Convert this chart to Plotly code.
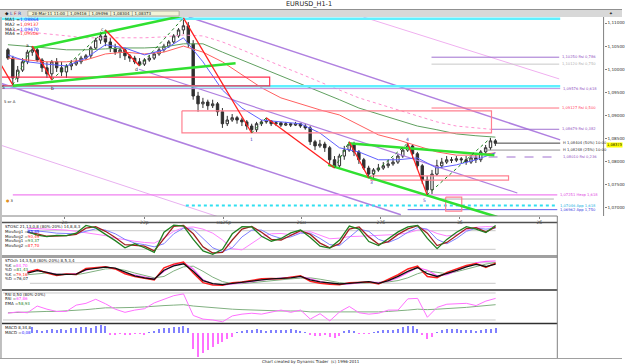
import plotly.graph_objects as go

W, H = 625, 364
def px(x): return x / W
def py(y): return 1 - y / H

# ---------------- candle data (price in pips, /10000) ----------------
open0 = 11042
close_pips = [11024,10981,10998,11016,11037,11042,11020,11003,10990,11016,
              11003,10994,11007,11011,11016,11024,11029,11046,11063,11072,
              11059,11046,11037,11042,11029,11024,11016,11011,11020,11024,
              11033,11042,11050,11059,11072,11085,11094,11055,10942,10925,
              10929,10921,10925,10908,10882,10890,10895,10890,10886,10877,
              10869,10882,10886,10888,10882,10884,10879,10882,10879,10882,
              10877,10873,10843,10834,10838,10830,10804,10791,10812,10825,
              10838,10821,10804,10786,10773,10782,10786,10791,10795,10799,
              10812,10825,10834,10817,10791,10760,10739,10773,10791,10799,
              10804,10803,10806,10804,10799,10808,10804,10821,10830,10845,10840]
high_pips = [11046,11029,11007,11024,11042,11050,11046,11024,11016,11020,
             11024,11016,11011,11020,11024,11029,11033,11050,11068,11081,
             11085,11068,11055,11046,11046,11033,11029,11024,11024,11031,
             11037,11046,11055,11063,11076,11089,11111,11102,11063,10951,
             10938,10934,10934,10929,10916,10899,10903,10899,10895,10890,
             10882,10886,10890,10895,10890,10888,10886,10886,10884,10886,
             10884,10882,10877,10847,10847,10843,10834,10812,10817,10834,
             10843,10843,10825,10808,10791,10786,10795,10799,10804,10808,
             10817,10830,10840,10838,10821,10795,10769,10782,10804,10808,
             10812,10810,10812,10810,10812,10814,10817,10825,10836,10851,10849]
low_pips = [11020,10966,10972,10994,11011,11029,11016,10994,10981,10977,
            10994,10985,10981,10998,11007,11011,11020,11024,11042,11055,
            11050,11037,11031,11024,11020,11016,11011,11007,11007,11016,
            11020,11029,11037,11046,11055,11068,11076,11046,10934,10908,
            10916,10912,10916,10899,10873,10877,10886,10882,10877,10869,
            10862,10864,10877,10882,10877,10877,10875,10877,10875,10877,
            10873,10869,10836,10825,10830,10821,10795,10786,10786,10804,
            10821,10812,10795,10782,10765,10765,10778,10782,10786,10791,
            10795,10808,10821,10808,10782,10752,10728,10730,10769,10786,
            10795,10797,10799,10797,10793,10795,10797,10799,10817,10825,10834]

# moving averages, sampled every 4 bars (pips)
ma_step = 4
ma1 = [11031,11016,11011,11007,11024,11053,11046,11031,11042,11068,11016,10955,10916,
       10890,10886,10882,10862,10830,10821,10804,10804,10808,10786,10793,10804,10819]
ma2 = [11024,11020,11016,11016,11020,11033,11037,11033,11037,11050,11037,11016,10988,
       10960,10938,10925,10912,10901,10879,10858,10847,10834,10821,10814,10814,10819]
ma3 = [11053,11050,11046,11042,11042,11044,11046,11046,11048,11055,11055,11037,11020,
       11003,10985,10968,10951,10934,10916,10903,10890,10877,10869,10860,10856,10853]
ma4 = [11085,11081,11076,11072,11068,11068,11068,11068,11070,11074,11072,11059,11042,
       11024,11007,10990,10972,10955,10938,10925,10912,10899,10886,10877,10873,10869]
ma_labels = [("MA1 =", "1,08864", "#2020ff"), ("MA2 =", "1,09137", "#ff2020"),
             ("MA3 =", "1,09470", "#2020ff"), ("MA4 =", "1,09506", "#ff2020")]

# zigzag swing points (bar index, price)
swing_i = [-1.6, 1, 5, 9, 20, 27, 36, 50, 53, 67, 70, 74, 82, 86, 99]
swing_p = [1.1013, 1.0966, 1.1050, 1.0977, 1.1085, 1.1007, 1.1111, 1.0862, 1.0895,
           1.0786, 1.0843, 1.0765, 1.0840, 1.0728, 1.0851]
wave_labels = [(-1.0, 1.0960, "5", "#202020"), (4.0, 1.1052, "a", "#202020"),
               (9.2, 1.0959, "b", "#202020"), (19.4, 1.1087, "c", "#202020"),
               (26.3, 1.0999, "d", "#202020"), (50.0, 1.0848, "1", "#4040c0"),
               (74.5, 1.0754, "3", "#4040c0"), (82.0, 1.0848, "4", "#4040c0"),
               (85.5, 1.0716, "5", "#4040c0")]

# thick green trend lines (i0, p0, i1, p1)
green_lines = [(5.1, 1.1046, 36.5, 1.1117), (1.0, 1.0964, 46.7, 1.1013),
               (69.8, 1.0840, 99.8, 1.0814), (65.7, 1.0793, 100.4, 1.0680)]
# channel lines (i0, p0, i1, p1, colour, width, dash)
channel_lines = [(37.1, 1.1113, 113.3, 1.0847, "#b080e0", 1.5, "solid"),
                 (-1.6, 1.0970, 80.6, 1.0685, "#b080e0", 1.5, "solid"),
                 (-1.6, 1.0836, 43.3, 1.0680, "#e8b0f0", 1.0, "solid"),
                 (26.9, 1.1000, 104.5, 1.0732, "#b080e0", 1.2, "solid"),
                 (72.9, 1.1113, 113.1, 1.0979, "#f0b0f0", 1.0, "solid")]
# rectangles (i0, i1, p0, p1, colour)
boxes = [(-1.6, 53.7, 1.0983, 1.0964, "#ff3050"), (35.7, 99.2, 1.0910, 1.0862, "#ff8090"),
         (74.5, 102.7, 1.0769, 1.0760, "#ff8090"), (89.8, 93.1, 1.0723, 1.0693, "#ff8090")]
# horizontal levels (i0, i1, price, colour, width, dash, label)
levels = [(-1.6, 113.3, 1.1109, "#60f0ff", 2.5, "solid", ""),
          (-1.6, 113.3, 1.0963, "#60f0ff", 2.5, "solid", ""),
          (-1.6, 113.3, 1.0958, "#c090e0", 1.0, "solid", "1,09576 Rsi 0,618"),
          (86.9, 113.1, 1.1026, "#a070d0", 1.0, "solid", "1,10250 Rsi 0,786"),
          (86.9, 113.1, 1.1011, "#c8c8c8", 1.0, "solid", "1,10120 Rsi 0,750"),
          (86.9, 113.1, 1.0916, "#ff7080", 1.0, "solid", "1,09127 Rsi 0,500"),
          (99.2, 113.1, 1.0870, "#a070d0", 1.0, "solid", "1,08679 Rsi 0,382"),
          (99.8, 113.3, 1.0840, "#404040", 1.0, "solid", "H 1,08404 (50%) 10:00"),
          (97.8, 113.3, 1.0825, "#909090", 1.0, "solid", "H 1,08248 (25%) 10:00"),
          (94.9, 113.3, 1.0810, "#a070d0", 1.0, "dash", "1,08010 Rsi 0,236"),
          (1.0, 112.7, 1.0728, "#f080f0", 1.2, "solid", "1,07251 Hexp 1,618"),
          (88.2, 112.0, 1.0719, "#b0b0b0", 1.0, "solid", ""),
          (36.5, 112.7, 1.0705, "#30e0f0", 2.0, "dot", "1,07046 App 1,618"),
          (82.0, 112.7, 1.0696, "#6060f0", 1.0, "solid", "1,06962 App 1,750")]
level_label_colors = {"1,09576 Rsi 0,618": "#9050c0", "1,10250 Rsi 0,786": "#9050c0",
                      "1,10120 Rsi 0,750": "#b0b0b0", "1,09127 Rsi 0,500": "#ff4060",
                      "1,08679 Rsi 0,382": "#9050c0", "H 1,08404 (50%) 10:00": "#303030",
                      "H 1,08248 (25%) 10:00": "#303030", "1,08010 Rsi 0,236": "#9050c0",
                      "1,07251 Hexp 1,618": "#e040e0", "1,07046 App 1,618": "#20b0e0",
                      "1,06962 App 1,750": "#4040e0"}
last_price = 1.0836
last_price_text = "1,08373"

price_ticks = [1.070, 1.075, 1.080, 1.085, 1.090, 1.095, 1.100, 1.105, 1.110]
price_tick_text = ["1,07000", "1,07500", "1,08000", "1,08500", "1,09000",
                   "1,09500", "1,10000", "1,10500", "1,11000"]
date_ticks = [11.6, 28.0, 44.3, 60.2, 76.5, 92.7, 109.0]
date_text = ["2п", "22р", "ма25р", "26м", "27б", "3б", "2б"]

# ---------------- oscillators (sampled every 2 bars from bar 4) ----------------
osc_start, osc_step = 4, 2
stosc_green = [77,66,61,65,64,72,97,89,68,48,25,38,25,10,75,98,95,52,15,4,20,70,93,92,62,
               46,55,73,82,58,30,24,50,95,85,45,32,55,76,92,97,55,22,52,75,93,85,74,97]
stosc_red = [75,70,62,63,64,68,88,93,78,58,35,33,30,15,55,94,97,70,28,8,10,50,85,94,75,
             52,50,65,80,68,40,25,38,85,92,60,36,45,68,86,96,72,32,42,66,87,90,76,92]
stosc_blue = [82,80,76,72,70,70,78,86,82,70,52,40,35,28,38,70,88,85,55,25,12,25,60,82,82,
              65,55,60,72,72,55,35,32,60,85,78,52,42,55,75,90,85,52,38,55,78,88,85,88]
stosc_pink = [88,87,85,84,82,78,74,70,64,56,50,46,42,40,56,78,90,92,85,72,50,22,18,38,60,
              70,71,67,74,77,65,54,56,61,62,64,66,66,68,73,82,84,71,63,67,82,91,93,93]
stoch_black = [50,57,52,45,46,47,60,64,67,64,52,42,36,32,58,71,77,55,28,19,16,20,23,26,30,
               33,34,36,40,30,24,20,18,20,22,25,20,28,40,55,66,48,40,48,58,68,75,69,76]
stoch_red = [52,60,50,43,47,46,63,66,68,62,48,40,34,30,65,76,82,50,22,15,14,22,24,28,33,
             34,33,38,42,26,20,17,16,22,24,24,18,32,45,62,70,40,36,52,62,72,78,66,79]
stoch_pink = [55,58,52,46,46,48,58,65,67,63,50,44,38,33,55,74,80,62,30,18,15,18,22,25,30,
              32,35,36,40,33,25,20,17,18,21,24,22,26,36,50,66,58,42,45,56,67,80,84,85]
stoch_green = [45,48,50,48,46,45,50,57,62,63,58,50,42,36,40,56,68,70,55,38,25,19,19,22,25,
               29,31,33,35,36,32,26,22,19,20,22,23,24,28,36,48,56,52,48,54,62,70,76,81]
# RSI sampled every 2 bars from bar 0
rsi_vals = [35,38,36,51,44,39,39,53,57,66,56,44,37,42,45,58,66,74,78,30,22,20,16,29,33,35,
            33,38,42,37,42,22,34,18,38,50,36,33,35,42,42,67,68,26,48,55,56,57,52,62,68]
rsi_ema = [36,37,38,39,39,39,40,41,43,45,47,47,47,48,49,51,52,53,54,51,49,47,45,44,43,42,
           41,41,40,40,40,38,38,37,37,38,38,38,38,39,40,42,44,43,44,45,46,48,50,52,54]
# MACD histogram from bar 5
macd_start = 5
macd_vals = [6,3,2,3,4,3,4,3,5,5, 6,6,5,7,8,7,-2,-2,-1,-2, -2,-1,-1,-2,1,2,4,5,5,6,
             6,7,5,-16,-24,-20,-17,-14,-11,-9, -6,-4,1,2,3,3,4,3,2,3, 3,3,3,4,3,2,1,-2,-3,-3,
             -2,-4,-5,-3,2,3,2,-1,-1,-1, 1,2,3,3,3,4,6,7,7,4, -2,-6,-4,1,3,4,4,4,3,3,
             3,2,3,4,4,5]

FONT = "DejaVu Sans"
fig = go.Figure()

def line(xs, ys, color, width=1, dash="solid", xa="x", ya="y"):
    fig.add_trace(go.Scatter(x=xs, y=ys, mode="lines", xaxis=xa, yaxis=ya,
                             line=dict(color=color, width=width, dash=dash),
                             hoverinfo="skip", showlegend=False))

for i0, p0, i1, p1, c, w, d in channel_lines:
    line([i0, i1], [p0, p1], c, w, d)
ma_x = [k * ma_step for k in range(len(ma1))]
for arr, c, d in [(ma4, "#ff90d0", "dot"), (ma3, "#60a060", "solid"),
                  (ma2, "#ff6060", "solid"), (ma1, "#6060ff", "solid")]:
    line(ma_x, [v / 1e4 for v in arr], c, 1, d)

n = len(close_pips)
opens = [open0] + close_pips[:-1]
fig.add_trace(go.Candlestick(
    x=list(range(n)), open=[v / 1e4 for v in opens], high=[v / 1e4 for v in high_pips],
    low=[v / 1e4 for v in low_pips], close=[v / 1e4 for v in close_pips],
    increasing=dict(line=dict(color="#303030", width=1), fillcolor="#ffffff"),
    decreasing=dict(line=dict(color="#303030", width=1), fillcolor="#303030"),
    whiskerwidth=0, xaxis="x", yaxis="y", hoverinfo="skip", showlegend=False))

for i0, i1, p, c, w, d, lab in levels:
    line([i0, i1], [p, p], c, w, d)
for i0, i1, p0, p1, c in boxes:
    line([i0, i1, i1, i0, i0], [p0, p0, p1, p1, p0], c, 1.2)
for i0, p0, i1, p1 in green_lines:
    line([i0, i1], [p0, p1], "#30e030", 2.5)
for k in range(len(swing_i) - 1):
    up = swing_p[k + 1] > swing_p[k]
    line([swing_i[k], swing_i[k + 1]], [swing_p[k], swing_p[k + 1]],
         "#208020" if up else "#ff2020", 1.0 if up else 1.3, "dot" if up else "solid")

osc_x = [osc_start + k * osc_step for k in range(len(stosc_green))]
for arr, c, w in [(stosc_pink, "#ff80ff", 1), (stosc_blue, "#8080ff", 1),
                  (stosc_red, "#a02020", 1.3), (stosc_green, "#208020", 1.3)]:
    line(osc_x, arr, c, w, xa="x2", ya="y2")
for arr, c, w in [(stoch_green, "#80b080", 1), (stoch_pink, "#ff60ff", 1.2),
                  (stoch_red, "#ff2020", 1.5), (stoch_black, "#101010", 1.3)]:
    line(osc_x, arr, c, w, xa="x3", ya="y3")
rsi_x = [k * 2 for k in range(len(rsi_vals))]
line(rsi_x, rsi_ema, "#80b080", 1, xa="x4", ya="y4")
line(rsi_x, rsi_vals, "#ff70ff", 1, xa="x4", ya="y4")
macd_x = [macd_start + k for k in range(len(macd_vals))]
fig.add_trace(go.Bar(x=macd_x, y=macd_vals, width=0.25, xaxis="x5", yaxis="y5",
                     marker=dict(color=["#8080ff" if v >= 0 else "#ff70ff" for v in macd_vals],
                                 line=dict(width=0)),
                     hoverinfo="skip", showlegend=False))

shapes = []
for xa, ya, lo, hi, i0 in [("x2", "y2", 20, 80, 4.5), ("x3", "y3", 20, 80, 4.5),
                           ("x4", "y4", 20, 80, -1.0)]:
    for v in (lo, hi):
        shapes.append(dict(type="line", xref=xa, yref=ya, x0=i0, x1=100, y0=v, y1=v,
                           line=dict(color="#c8c8c8", width=1), layer="below"))

def pline(x0, y0, x1, y1, color, w=1):
    shapes.append(dict(type="line", xref="paper", yref="paper", x0=px(x0), x1=px(x1),
                       y0=py(y0), y1=py(y1), line=dict(color=color, width=w)))
def prect(x0, y0, x1, y1, fill, lc=None):
    shapes.append(dict(type="rect", xref="paper", yref="paper", x0=px(x0), x1=px(x1),
                       y0=py(y0), y1=py(y1), fillcolor=fill,
                       line=dict(color=lc or fill, width=1 if lc else 0), layer="below"))

prect(0, 9.5, 625, 17, "#d8d8d8")
prect(28, 11, 180, 16, "#f4f4d8", "#b0b0a0")
pline(0, 9.5, 625, 9.5, "#909090")
pline(1, 17, 1, 358, "#808080")
pline(2, 216, 560, 216, "#808080")
pline(2, 222.5, 560, 222.5, "#505050", 1.5)
prect(2, 255, 560, 258, "#a0a0a0")
pline(2, 290, 560, 290, "#303030", 1.5)
pline(2, 323.5, 560, 323.5, "#303030", 1.5)
pline(560, 216, 560, 358, "#808080")
pline(0, 358.5, 625, 358.5, "#a0a0a0")
pline(606.5, 17, 606.5, 216, "#808080")

ann = []
def text(x, y, s, size=5, color="#202020", anchor="left", **kw):
    ann.append(dict(x=px(x), y=py(y), xref="paper", yref="paper", text=s, showarrow=False,
                    xanchor=anchor, yanchor="middle", font=dict(family=FONT, size=size, color=color), **kw))

text(310, 4.5, "EURUSD_H1-1", 6.5, anchor="center")
text(3, 13.5, "◆", 4.5)
text(8, 13.5, "<span style='color:#2040c0'>L</span> <span style='color:#c02020'>F</span> <span style='color:#2040c0'>R</span>", 4.5)
text(30, 13.5, "28-Mar-11 11:00 │ 1,09416 │ 1,09496 │ 1,08304 │ 1,08373", 4)
text(610, 13.5, "✦", 4.5)
for k, (a, v, c) in enumerate(ma_labels):
    text(3, 19.5 + 4.8 * k, f"{a}<span style='color:{c}'>{v}</span>", 4.5)
text(2, 101.5, "5 or A", 3.8)
text(4, 200.5, "<span style='color:#e09020'>●</span> 3", 3.8)

for i0, i1, p, c, w, d, lab in levels:
    if lab:
        ann.append(dict(x=i1 + 0.2, y=p, xref="x", yref="y", text=lab, showarrow=False,
                        xanchor="left", yanchor="middle",
                        font=dict(family=FONT, size=3.7, color=level_label_colors[lab])))
for i, p, s, c in wave_labels:
    ann.append(dict(x=i, y=p, xref="x", yref="y", text=s, showarrow=False,
                    font=dict(family=FONT, size=4.5, color=c)))
ann.append(dict(x=px(608.5), y=last_price, xref="paper", yref="y", text=last_price_text,
                showarrow=False, xanchor="left", yanchor="middle", bgcolor="#ffff00",
                font=dict(family=FONT, size=3.6, color="#000000"), borderpad=0))

text(3, 226.5, "STOSC 21,13,0,8 (80%-20%) 14,8,8,3", 4)
for k, (a, v, c) in enumerate([("MovAvg1 =", "85,85", "#2020ff"), ("MovAvg2 =", "90,49", "#ff2020"),
                               ("MovAvg1 =", "93,37", "#208020"), ("MovAvg2 =", "87,70", "#ff2020")]):
    text(3, 231.5 + 4.6 * k, f"{a}<span style='color:{c}'>{v}</span>", 4)
text(3, 260.5, "STOch 14,3,5,8 (80%-20%) 8,5,3,4", 4)
for k, (a, v, c) in enumerate([("%K =", "84,70", "#ff40ff"), ("%D =", "81,43", "#208020"),
                               ("%K =", "79,16", "#ff2020"), ("%D =", "76,07", "#202020")]):
    text(3, 265 + 4.6 * k, f"{a}<span style='color:{c}'>{v}</span>", 4)
text(3, 294, "RSI 0,50 (80%-20%)", 4)
text(3, 298.5, "RSI =<span style='color:#ff40ff'>67,86</span>", 4)
text(3, 303, "EMA =<span style='color:#208020'>58,93</span>", 4)
text(3, 327.5, "MACD 8,34,8", 4)
text(3, 332, "MACD =<span style='color:#2020ff'>0,08</span>", 4)
text(312, 361.5, "Chart created by Dynamic Trader  (c) 1996-2011", 4, anchor="center")

hidden = dict(showgrid=False, zeroline=False, showticklabels=False, ticks="", showline=False)
layout = dict(
    width=W, height=H, margin=dict(l=0, r=0, t=0, b=0),
    paper_bgcolor="white", plot_bgcolor="white", showlegend=False, bargap=0,
    font=dict(family=FONT),
    xaxis=dict(domain=[px(2), px(606.5)], range=[-1.22, 122.2], anchor="y",
               showgrid=False, zeroline=False, showline=False, rangeslider=dict(visible=False),
               tickvals=date_ticks, ticktext=date_text, ticks="outside", ticklen=2,
               tickcolor="#808080", tickfont=dict(size=4.5, color="#303030")),
    yaxis=dict(domain=[py(216), py(17)], range=[1.06823, 1.11130], anchor="x", side="right",
               showgrid=False, zeroline=False, showline=False, tickvals=price_ticks,
               ticktext=price_tick_text, ticks="outside", ticklen=2, tickcolor="#808080",
               tickfont=dict(size=4.2, color="#303030")),
    shapes=shapes, annotations=ann,
)
for k, (dom, rng) in enumerate([((256, 223), (-1.6, 104.8)), ((290, 258), (0.5, 93.8)),
                                ((323, 291), (13.3, 84.4)), ((358, 324), (-25, 9))], start=2):
    layout[f"xaxis{k}"] = dict(domain=[px(2), px(560)], range=[-1.22, 112.65],
                               anchor=f"y{k}", **hidden)
    layout[f"yaxis{k}"] = dict(domain=[py(dom[0]), py(dom[1])], range=list(rng),
                               anchor=f"x{k}", **hidden)
fig.update_layout(**layout)
fig.write_html("out.html")
